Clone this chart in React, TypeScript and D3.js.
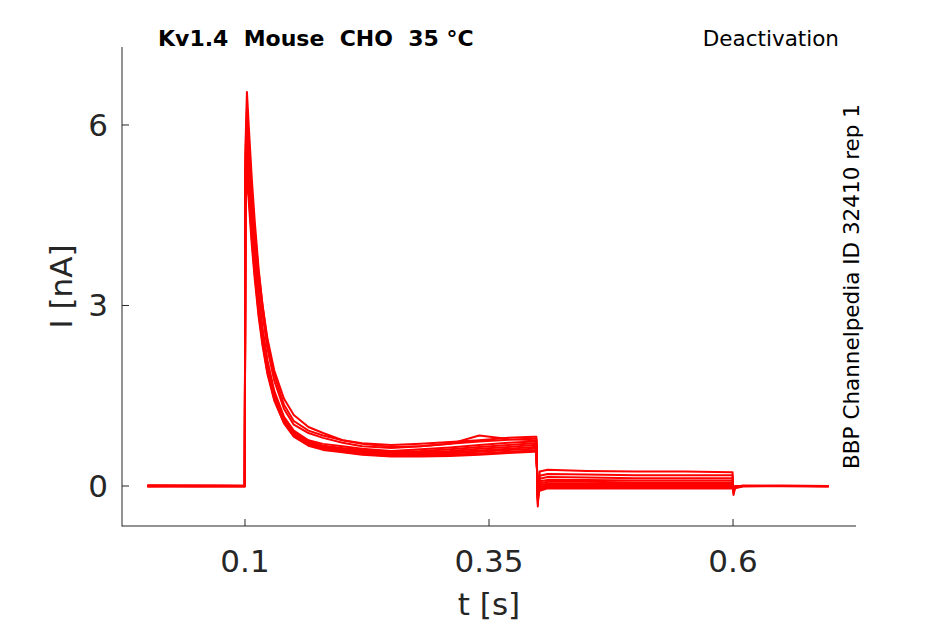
import * as d3 from "d3"

// sample times [s] shared by all sweeps
const times = [
  0, 0.05, 0.0998, 0.1004, 0.102, 0.104, 0.107, 0.11, 0.114, 0.118, 0.123, 0.13, 0.14, 0.15, 0.165, 0.18, 0.2,
  0.22, 0.25, 0.28, 0.31, 0.34, 0.37, 0.396, 0.3985, 0.4, 0.402, 0.41, 0.45, 0.5, 0.55, 0.5995, 0.6005, 0.602,
  0.61, 0.65, 0.698,
]

// current [nA] for each sweep
const sweep1 = [0.0, 0.01, 0.0, 5.6, 6.55, 5.95, 5.1, 4.4, 3.6, 3.0, 2.4, 1.85, 1.35, 1.08, 0.92, 0.84, 0.76, 0.71, 0.68, 0.7, 0.73, 0.76, 0.8, 0.82, 0.82, -0.34, 0.24, 0.27, 0.25, 0.24, 0.24, 0.23, -0.15, -0.04, -0.01, 0.0, -0.01]
const sweep2 = [0.01, 0.0, -0.01, 5.4, 6.3, 5.7, 4.85, 4.15, 3.4, 2.85, 2.28, 1.75, 1.28, 1.02, 0.88, 0.8, 0.72, 0.66, 0.63, 0.66, 0.7, 0.74, 0.77, 0.79, 0.79, -0.3, 0.17, 0.2, 0.19, 0.18, 0.18, 0.18, -0.12, -0.03, 0.0, 0.01, 0.0]
const sweep3 = [0.0, -0.01, 0.0, 5.3, 6.1, 5.6, 4.85, 4.25, 3.55, 3.0, 2.45, 1.92, 1.45, 1.18, 0.98, 0.88, 0.76, 0.7, 0.65, 0.66, 0.7, 0.84, 0.78, 0.76, 0.76, -0.26, 0.12, 0.15, 0.14, 0.13, 0.13, 0.13, -0.1, -0.02, 0.01, 0.0, 0.0]
const sweep4 = [-0.01, 0.0, 0.01, 5.1, 5.95, 5.35, 4.55, 3.9, 3.18, 2.62, 2.09, 1.58, 1.15, 0.92, 0.76, 0.7, 0.66, 0.62, 0.58, 0.61, 0.64, 0.68, 0.72, 0.74, 0.74, -0.23, 0.08, 0.1, 0.1, 0.09, 0.09, 0.09, -0.08, -0.02, 0.0, 0.0, 0.0]
const sweep5 = [0.0, 0.0, 0.0, 5.0, 5.8, 5.22, 4.45, 3.8, 3.1, 2.56, 2.04, 1.54, 1.12, 0.9, 0.74, 0.67, 0.63, 0.6, 0.57, 0.58, 0.61, 0.65, 0.68, 0.71, 0.71, -0.21, 0.04, 0.07, 0.07, 0.06, 0.06, 0.06, -0.07, -0.01, 0.0, 0.0, -0.01]
const sweep6 = [0.01, 0.01, 0.0, 4.9, 5.7, 5.12, 4.35, 3.72, 3.02, 2.5, 1.98, 1.5, 1.1, 0.88, 0.72, 0.66, 0.62, 0.58, 0.55, 0.56, 0.58, 0.62, 0.65, 0.68, 0.68, -0.19, 0.01, 0.04, 0.04, 0.04, 0.04, 0.04, -0.06, -0.01, 0.0, 0.0, 0.0]
const sweep7 = [0.0, -0.01, -0.01, 4.8, 5.6, 5.02, 4.28, 3.66, 2.98, 2.46, 1.95, 1.48, 1.08, 0.86, 0.7, 0.64, 0.6, 0.56, 0.53, 0.54, 0.56, 0.59, 0.62, 0.65, 0.65, -0.17, -0.02, 0.02, 0.02, 0.02, 0.02, 0.02, -0.05, -0.01, 0.0, 0.0, 0.0]
const sweep8 = [-0.01, 0.0, 0.0, 4.7, 5.5, 4.95, 4.2, 3.6, 2.93, 2.42, 1.92, 1.46, 1.06, 0.84, 0.69, 0.63, 0.59, 0.55, 0.52, 0.52, 0.54, 0.57, 0.6, 0.62, 0.62, -0.15, -0.04, 0.0, 0.0, 0.0, 0.0, 0.0, -0.04, -0.01, 0.0, 0.0, 0.0]
const sweep9 = [0.0, 0.0, 0.01, 4.6, 5.35, 4.82, 4.1, 3.52, 2.87, 2.38, 1.89, 1.44, 1.05, 0.83, 0.68, 0.62, 0.57, 0.53, 0.5, 0.5, 0.52, 0.54, 0.57, 0.59, 0.59, -0.13, -0.06, -0.02, -0.02, -0.02, -0.02, -0.02, -0.04, -0.01, 0.0, 0.0, 0.0]
const sweep10 = [0.01, 0.0, 0.0, 4.5, 5.2, 4.7, 4.0, 3.44, 2.81, 2.33, 1.86, 1.42, 1.04, 0.82, 0.67, 0.6, 0.56, 0.52, 0.49, 0.49, 0.5, 0.52, 0.55, 0.57, 0.57, -0.1, -0.08, -0.04, -0.04, -0.04, -0.04, -0.04, -0.03, -0.01, 0.0, 0.0, 0.0]

const sweeps = [sweep1, sweep2, sweep3, sweep4, sweep5, sweep6, sweep7, sweep8, sweep9, sweep10]

const xTicks = [0.1, 0.35, 0.6]
const yTicks = [0, 3, 6]

export default function App() {
  const width = 945
  const height = 624
  const left = 122
  const right = 856
  const top = 47
  const bottom = 526
  const axisColor = "#262626"
  const font = "DejaVu Sans, sans-serif"

  const x = d3.scaleLinear().domain([-0.026, 0.726]).range([left, right])
  const y = d3.scaleLinear().domain([-0.665, 7.296]).range([bottom, top])

  const line = d3
    .line<number>()
    .x((_, i) => x(times[i]))
    .y((d) => y(d))

  const midY = (top + bottom) / 2

  return (
    <svg
      width={width}
      height={height}
      style={{ position: "absolute", left: 0, top: 0, background: "white" }}
      fontFamily={font}
    >
      {/* traces */}
      <g fill="none" stroke="#ff0000" strokeWidth={2} strokeLinejoin="round">
        {sweeps.map((s, i) => (
          <path key={i} d={line(s) || ""} />
        ))}
      </g>

      {/* axes */}
      <g stroke={axisColor} strokeWidth={1} fill="none">
        <line x1={left} x2={left} y1={top} y2={bottom + 0.5} />
        <line x1={left} x2={right} y1={bottom} y2={bottom} />
        {yTicks.map((t) => (
          <line key={t} x1={left} x2={left + 7} y1={y(t)} y2={y(t)} />
        ))}
        {xTicks.map((t) => (
          <line key={t} x1={x(t)} x2={x(t)} y1={bottom} y2={bottom - 7} />
        ))}
      </g>

      <g fill={axisColor} fontSize={31}>
        {yTicks.map((t) => (
          <text key={t} x={left - 14} y={y(t) + 11} textAnchor="end">
            {t}
          </text>
        ))}
        {xTicks.map((t) => (
          <text key={t} x={x(t)} y={572} textAnchor="middle">
            {t}
          </text>
        ))}
      </g>

      <text x={(left + right) / 2} y={615} textAnchor="middle" fontSize={31} fill={axisColor}>
        t [s]
      </text>
      <text
        transform={`translate(72,${midY}) rotate(-90)`}
        textAnchor="middle"
        fontSize={31}
        fill={axisColor}
      >
        I [nA]
      </text>

      <text x={158} y={46} fontSize={22} fontWeight="bold" fill="#000" style={{ whiteSpace: "pre" }}>
        {"Kv1.4  Mouse  CHO  35 °C"}
      </text>
      <text x={839} y={46} fontSize={21.5} textAnchor="end" fill="#000">
        Deactivation
      </text>
      <text
        transform={`translate(859,${midY}) rotate(-90)`}
        textAnchor="middle"
        fontSize={21.5}
        fill="#000"
      >
        BBP Channelpedia ID 32410 rep 1
      </text>
    </svg>
  )
}
